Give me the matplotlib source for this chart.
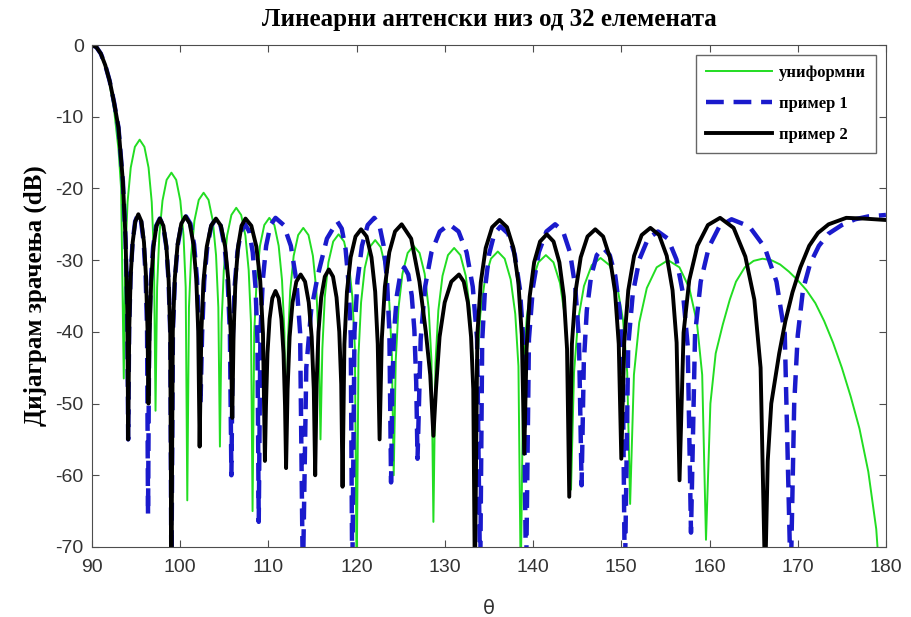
import matplotlib
matplotlib.use("Agg")
import matplotlib.pyplot as plt

plt.rcParams["axes.unicode_minus"] = False

# uniform array (green), read lobe by lobe
theta_u = [90, 90.5, 91, 91.5, 92, 92.5, 93, 93.3, 93.6,
           93.78, 94.03, 94.39, 94.86, 95.40, 95.94, 96.41, 96.77, 97.02, 97.2,
           97.38, 97.63, 97.99, 98.46, 99.00, 99.54, 100.01, 100.37, 100.62, 100.8,
           100.99, 101.24, 101.61, 102.10, 102.65, 103.21, 103.69, 104.06, 104.32, 104.5,
           104.69, 104.94, 105.31, 105.80, 106.35, 106.91, 107.39, 107.76, 108.02, 108.2,
           108.39, 108.66, 109.04, 109.53, 110.10, 110.67, 111.16, 111.54, 111.81, 112.0,
           112.20, 112.47, 112.86, 113.37, 113.95, 114.54, 115.04, 115.43, 115.71, 115.9,
           116.11, 116.39, 116.80, 117.34, 117.95, 118.57, 119.10, 119.51, 119.80, 120.0,
           120.21, 120.50, 120.92, 121.47, 122.10, 122.73, 123.28, 123.70, 123.99, 124.2,
           124.43, 124.74, 125.19, 125.78, 126.45, 127.13, 127.71, 128.16, 128.48, 128.7,
           128.94, 129.26, 129.73, 130.35, 131.05, 131.76, 132.37, 132.84, 133.17, 133.4,
           133.66, 134.02, 134.54, 135.22, 136.00, 136.78, 137.46, 137.98, 138.34, 138.6,
           138.89, 139.28, 139.85, 140.60, 141.45, 142.31, 143.05, 143.62, 144.02, 144.3,
           144.64, 145.10, 145.77, 146.65, 147.65, 148.66, 149.53, 150.20, 150.67, 151.0,
           151.43, 152.03, 152.89, 154.01, 155.30, 156.59, 157.71, 158.57, 159.17, 159.6,
           160.1, 160.7, 161.5, 162.3, 163.0, 164.0, 165.0, 166.0, 167.0, 168.0, 169.0,
           170.0, 171.0, 172.0, 173.0, 174.0, 175.0, 176.0, 177.0, 178.0, 178.9, 179.5]
db_u = [0, -0.3, -1.3, -3.0, -5.5, -9.0, -14.5, -20.0, -46.5,
        -29.2, -21.9, -17.1, -14.2, -13.2, -14.2, -17.1, -21.9, -29.2, -51.0,
        -33.8, -26.5, -21.7, -18.8, -17.8, -18.8, -21.7, -26.5, -33.8, -63.5,
        -36.6, -29.3, -24.5, -21.6, -20.6, -21.6, -24.5, -29.3, -36.6, -56.0,
        -38.7, -31.4, -26.6, -23.7, -22.7, -23.7, -26.6, -31.4, -38.7, -65.0,
        -40.1, -32.8, -28.0, -25.1, -24.1, -25.1, -28.0, -32.8, -40.1, -58.0,
        -41.5, -34.2, -29.4, -26.5, -25.5, -26.5, -29.4, -34.2, -41.5, -55.0,
        -42.4, -35.1, -30.3, -27.4, -26.4, -27.4, -30.3, -35.1, -42.4, -75.0,
        -43.2, -35.9, -31.1, -28.2, -27.2, -28.2, -31.1, -35.9, -43.2, -60.0,
        -44.0, -36.7, -31.9, -29.0, -28.0, -29.0, -31.9, -36.7, -44.0, -66.5,
        -44.3, -37.0, -32.2, -29.3, -28.3, -29.3, -32.2, -37.0, -44.3, -64.0,
        -44.8, -37.5, -32.7, -29.8, -28.8, -29.8, -32.7, -37.5, -44.8, -75.0,
        -45.3, -38.0, -33.2, -30.3, -29.3, -30.3, -33.2, -38.0, -45.3, -62.0,
        -45.7, -38.4, -33.6, -30.7, -29.7, -30.7, -33.6, -38.4, -45.7, -64.0,
        -46.0, -38.7, -33.9, -31.0, -30.0, -31.0, -33.9, -38.7, -46.0, -69.0,
        -50.0, -43.0, -39.0, -35.5, -33.0, -31.0, -30.1, -29.8, -30.0, -30.6, -31.6,
        -32.8, -34.2, -36.0, -38.5, -41.5, -45.0, -49.0, -53.5, -59.5, -67.5, -78.0]

# example 1 (blue dashed)
theta_1 = [90, 90.5, 91, 91.5, 92, 92.5, 93, 93.5, 93.8, 94.0, 94.1,
           94.21, 94.37, 94.60, 94.89, 95.23, 95.56, 95.86, 96.08, 96.24, 96.35,
           96.48, 96.67, 96.93, 97.28, 97.68, 98.07, 98.42, 98.68, 98.87, 99.0,
           99.17, 99.40, 99.73, 100.16, 100.65, 101.15, 101.57, 101.90, 102.14, 102.3,
           102.48, 102.72, 103.07, 103.53, 104.05, 104.58, 105.03, 105.38, 105.63, 105.8,
           105.96, 106.17, 106.48, 106.89, 107.35, 107.82, 108.22, 108.53, 108.75, 108.9,
           109.09, 109.36, 109.74, 110.23, 110.8, 111.73, 112.54, 113.16, 113.59, 113.9,
           114.29, 114.84, 115.62, 116.63, 117.8, 118.31, 118.75, 119.09, 119.33, 119.5,
           119.75, 120.10, 120.60, 121.25, 122.0, 122.57, 123.06, 123.44, 123.71, 123.9,
           124.05, 124.26, 124.56, 124.95, 125.40, 125.85, 126.24, 126.54, 126.75, 126.9,
           127.26, 127.76, 128.48, 129.42, 130.5, 131.55, 132.46, 133.16, 133.65, 134.0,
           134.23, 134.55, 135.01, 135.61, 136.3, 137.17, 137.92, 138.50, 138.91, 139.2,
           139.53, 139.99, 140.65, 141.51, 142.5, 143.40, 144.18, 144.78, 145.20, 145.5,
           145.75, 146.09, 146.58, 147.22, 147.95, 148.69, 149.32, 149.81, 150.16, 150.4,
           150.78, 151.30, 152.05, 153.03, 154.15, 155.28, 156.25, 157.00, 157.53, 157.9,
           158.36, 159.00, 159.92, 161.12, 162.5, 164.51, 166.25, 167.59, 168.53, 169.2,
           169.6, 170.0, 170.6, 171.4, 172.4, 173.5, 175.0, 176.5, 178.0, 180.0]
db_1 = [0, -0.3, -1.2, -2.8, -5.0, -8.0, -11.5, -19.0, -27.0, -37.0, -55.0,
        -39.6, -32.3, -27.5, -24.6, -23.6, -24.6, -27.5, -32.3, -39.6, -65.5,
        -40.2, -32.9, -28.1, -25.2, -24.2, -25.2, -28.1, -32.9, -40.2, -75.0,
        -39.9, -32.6, -27.8, -24.9, -23.9, -24.9, -27.8, -32.6, -39.9, -50.0,
        -40.2, -32.9, -28.1, -25.2, -24.2, -25.2, -28.1, -32.9, -40.2, -60.0,
        -41.0, -33.7, -28.9, -26.0, -25.0, -26.0, -28.9, -33.7, -41.0, -66.5,
        -40.1, -32.8, -28.0, -25.1, -24.1, -25.1, -28.0, -32.8, -40.1, -75.0,
        -45.0, -37.0, -32.0, -27.0, -24.6, -25.6, -28.5, -33.3, -40.6, -75.0,
        -40.1, -32.8, -28.0, -25.1, -24.1, -25.1, -28.0, -32.8, -40.1, -61.0,
        -47.0, -39.7, -34.9, -32.0, -31.0, -32.0, -34.9, -39.7, -47.0, -57.7,
        -41.0, -33.7, -28.9, -26.0, -25.0, -26.0, -28.9, -33.7, -41.0, -75.0,
        -41.3, -34.0, -29.2, -26.3, -25.3, -26.3, -29.2, -34.0, -41.3, -75.0,
        -41.0, -33.7, -28.9, -26.0, -25.0, -26.0, -28.9, -33.7, -41.0, -61.4,
        -44.3, -37.0, -32.2, -29.3, -28.3, -29.3, -32.2, -37.0, -44.3, -75.0,
        -42.0, -34.7, -29.9, -27.0, -26.0, -27.0, -29.9, -34.7, -42.0, -68.0,
        -40.3, -33.0, -28.2, -25.3, -24.3, -25.3, -28.2, -33.0, -40.3, -75.0,
        -50.0, -40.5, -34.1, -30.5, -28.0, -26.3, -25.1, -24.3, -23.9, -23.7]

# example 2 (black)
theta_2 = [90, 90.5, 91, 91.5, 92, 92.5, 93, 93.5, 93.8, 94.0, 94.1,
           94.22, 94.38, 94.61, 94.91, 95.25, 95.60, 95.89, 96.12, 96.29, 96.4,
           96.53, 96.71, 96.97, 97.31, 97.70, 98.09, 98.43, 98.69, 98.87, 99.0,
           99.16, 99.38, 99.70, 100.12, 100.60, 101.08, 101.50, 101.82, 102.04, 102.2,
           102.39, 102.64, 103.01, 103.50, 104.05, 104.61, 105.09, 105.46, 105.72, 105.9,
           106.05, 106.26, 106.56, 106.95, 107.4, 108.06, 108.63, 109.07, 109.38, 109.6,
           109.72, 109.89, 110.13, 110.44, 110.80, 111.16, 111.47, 111.71, 111.88, 112.0,
           112.17, 112.40, 112.73, 113.16, 113.65, 114.15, 114.57, 114.90, 115.14, 115.3,
           115.46, 115.67, 115.98, 116.39, 116.85, 117.32, 117.72, 118.03, 118.25, 118.4,
           118.61, 118.90, 119.32, 119.87, 120.50, 121.13, 121.68, 122.10, 122.39, 122.6,
           122.85, 123.20, 123.70, 124.35, 125.1, 126.18, 127.12, 127.84, 128.34, 128.7,
           128.99, 129.40, 129.98, 130.73, 131.6, 132.14, 132.61, 132.97, 133.22, 133.4,
           133.68, 134.07, 134.63, 135.36, 136.20, 137.04, 137.77, 138.33, 138.72, 139.0,
           139.26, 139.61, 140.12, 140.79, 141.55, 142.32, 142.98, 143.49, 143.85, 144.1,
           144.40, 144.81, 145.40, 146.17, 147.05, 147.94, 148.70, 149.29, 149.71, 150.0,
           150.33, 150.79, 151.45, 152.31, 153.30, 154.29, 155.15, 155.81, 156.27, 156.6,
           157.06, 157.70, 158.62, 159.82, 161.2, 162.73, 164.06, 165.08, 165.79, 166.3,
           166.6, 167.0, 167.9, 168.6, 169.4, 170.3, 171.3, 172.3, 173.5, 175.5, 177.5, 180.0]
db_2 = [0, -0.3, -1.2, -2.8, -5.0, -8.0, -11.5, -19.0, -27.0, -37.0, -55.0,
        -39.6, -32.3, -27.5, -24.6, -23.6, -24.6, -27.5, -32.3, -39.6, -50.0,
        -40.2, -32.9, -28.1, -25.2, -24.2, -25.2, -28.1, -32.9, -40.2, -75.0,
        -39.9, -32.6, -27.8, -24.9, -23.9, -24.9, -27.8, -32.6, -39.9, -56.0,
        -40.2, -32.9, -28.1, -25.2, -24.2, -25.2, -28.1, -32.9, -40.2, -52.0,
        -40.2, -32.9, -28.1, -25.2, -24.2, -25.2, -28.1, -32.9, -40.2, -58.0,
        -50.3, -43.0, -38.2, -35.3, -34.3, -35.3, -38.2, -43.0, -50.3, -59.0,
        -48.0, -40.7, -35.9, -33.0, -32.0, -33.0, -35.9, -40.7, -48.0, -60.0,
        -47.3, -40.0, -35.2, -32.3, -31.3, -32.3, -35.2, -40.0, -47.3, -61.6,
        -41.7, -34.4, -29.6, -26.7, -25.7, -26.7, -29.6, -34.4, -41.7, -55.0,
        -41.0, -33.7, -28.9, -26.0, -25.0, -27.0, -33.0, -40.0, -46.0, -54.5,
        -48.0, -40.7, -35.9, -33.0, -32.0, -33.0, -35.9, -40.7, -48.0, -75.0,
        -40.4, -33.1, -28.3, -25.4, -24.4, -25.4, -28.3, -33.1, -40.4, -57.0,
        -42.4, -35.1, -30.3, -27.4, -26.4, -27.4, -30.3, -35.1, -42.4, -63.0,
        -41.7, -34.4, -29.6, -26.7, -25.7, -26.7, -29.6, -34.4, -41.7, -57.7,
        -41.5, -34.2, -29.4, -26.5, -25.5, -26.5, -29.4, -34.2, -41.5, -60.7,
        -40.1, -32.8, -28.0, -25.1, -24.1, -25.5, -29.5, -35.5, -45.0, -75.0,
        -58.0, -50.0, -43.0, -38.5, -34.5, -31.0, -28.0, -26.2, -25.0, -24.1, -24.2, -24.4]

labels = ["униформни", "пример 1", "пример 2"]

fig, ax = plt.subplots(figsize=(9.11, 6.17), dpi=100)
fig.subplots_adjust(left=0.101, right=0.9725, top=0.927, bottom=0.1135)

ax.plot(theta_u, db_u, color="#22dd22", lw=1.4, label=labels[0])
ax.plot(theta_1, db_1, color="#1a1acc", lw=3.2, dashes=(4, 2.2), label=labels[1])
ax.plot(theta_2, db_2, color="black", lw=2.8, label=labels[2])

ax.set_xlim(90, 180)
ax.set_ylim(-70, 0)
ax.set_xticks(range(90, 181, 10))
ax.set_yticks(range(-70, 1, 10))
ax.tick_params(direction="in", top=True, right=True, labelsize=14, length=5,
               color="0.3", labelcolor="0.2", pad=6)
ax.tick_params(axis="x", pad=9)
for lbl in ax.get_xticklabels() + ax.get_yticklabels():
    lbl.set_family("Liberation Sans")
for s in ax.spines.values():
    s.set_color("0.3")

ax.set_title("Линеарни антенски низ од 32 елемената", family="Liberation Serif",
             fontweight="bold", fontsize=18, pad=14)
ax.set_ylabel("Дијаграм зрачења (dB)", family="Liberation Serif",
              fontweight="bold", fontsize=18, labelpad=6)
ax.set_xlabel("θ", family="DejaVu Sans", fontsize=14, color="0.2", labelpad=16)

leg = ax.legend(loc="upper right", prop={"family": "Liberation Serif", "weight": "bold", "size": 12},
                handlelength=4.0, fancybox=False, framealpha=1, borderaxespad=0.6,
                labelspacing=0.9, handletextpad=0.4, borderpad=0.6)
leg.get_frame().set_edgecolor("0.4")

fig.savefig("out.png", dpi=100)
